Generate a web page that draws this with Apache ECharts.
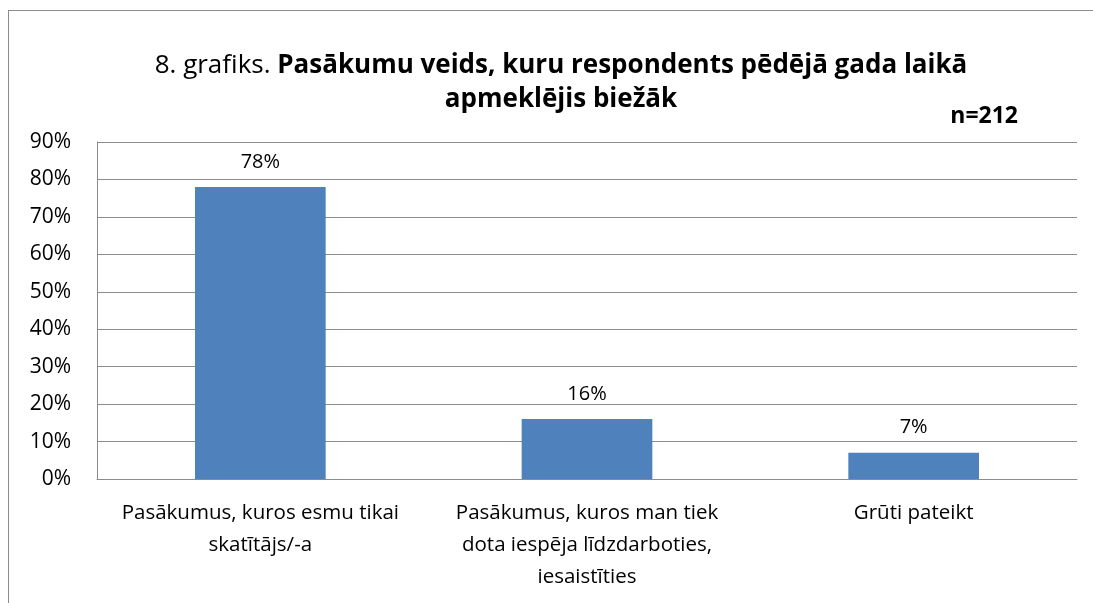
<!DOCTYPE html>
<html>
<head>
<meta charset="utf-8">
<script src="https://cdn.jsdelivr.net/npm/echarts@6/dist/echarts.min.js"></script>
<style>
  html, body { margin: 0; padding: 0; background: #fff; }
  #chart { width: 1093px; height: 603px; }
  .frame { position: absolute; left: 8px; top: 10px; width: 1100px; height: 700px; border: 1px solid #8c8c8c; box-sizing: border-box; pointer-events: none; }
</style>
</head>
<body>
<div id="chart"></div>
<div class="frame"></div>
<script>
const categories = [
  'Pasākumus, kuros esmu tikai\nskatītājs/-a',
  'Pasākumus, kuros man tiek\ndota iespēja līdzdarboties,\niesaistīties',
  'Grūti pateikt'
];
const values = [78, 16, 7];
const yTicks = [0, 10, 20, 30, 40, 50, 60, 70, 80, 90];

const font = 'Open Sans, Noto Sans, sans-serif';
const chart = echarts.init(document.getElementById('chart'));

chart.setOption({
  animation: false,
  backgroundColor: '#fff',
  title: [
    {
      text: '{n|8. grafiks. }{b|Pasākumu veids, kuru respondents pēdējā gada laikā}\n{b|apmeklējis biežāk}',
      left: 556,
      top: 44,
      textAlign: 'center',
      textStyle: {
        fontWeight: 'normal',
        rich: {
          n: { fontFamily: font, fontSize: 26, fontWeight: 'normal', color: '#000', lineHeight: 34 },
          b: { fontFamily: font, fontSize: 26, fontWeight: 'bold', color: '#000', lineHeight: 34 }
        }
      }
    },
    {
      text: 'n=212',
      right: 70,
      top: 100,
      textStyle: { fontFamily: font, fontSize: 23, fontWeight: 'bold', color: '#000' }
    }
  ],
  grid: { left: 97, right: 16, top: 142, height: 337 },
  xAxis: {
    type: 'category',
    data: categories,
    axisLine: { show: true, lineStyle: { color: '#8c8c8c' } },
    axisTick: { show: false },
    axisLabel: {
      interval: 0,
      color: '#000',
      fontFamily: font,
      fontSize: 20.5,
      lineHeight: 32,
      margin: 18
    }
  },
  yAxis: {
    type: 'value',
    min: yTicks[0],
    max: yTicks[yTicks.length - 1],
    interval: 10,
    axisLine: { show: true, lineStyle: { color: '#8c8c8c' } },
    axisTick: { show: false },
    splitLine: { lineStyle: { color: '#8c8c8c', width: 1 } },
    axisLabel: {
      color: '#000',
      fontFamily: font,
      fontSize: 21,
      margin: 26,
      formatter: (v) => v + '%'
    }
  },
  series: [
    {
      type: 'bar',
      data: values,
      barWidth: '40%',
      itemStyle: { color: '#4f81bd' },
      label: {
        show: true,
        position: 'top',
        distance: 15,
        color: '#000',
        fontFamily: font,
        fontSize: 20,
        formatter: (p) => p.value + '%'
      }
    }
  ]
});
</script>
</body>
</html>
